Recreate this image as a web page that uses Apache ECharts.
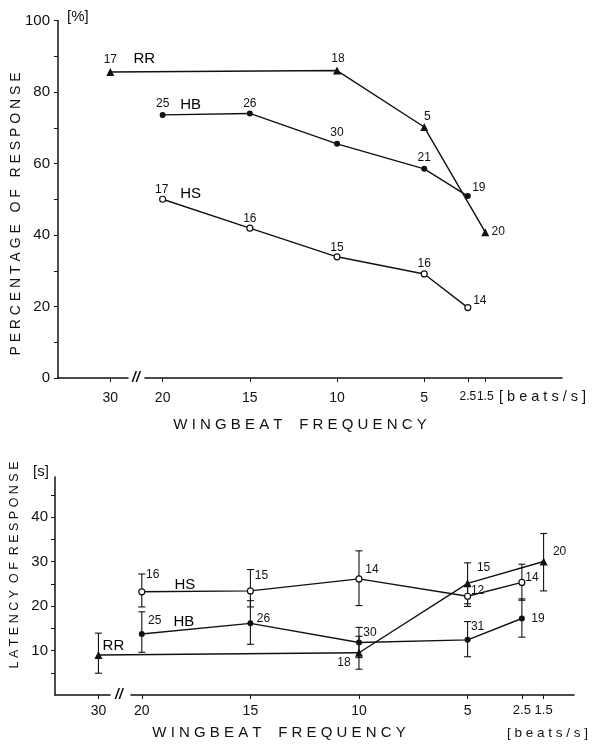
<!DOCTYPE html>
<html>
<head>
<meta charset="utf-8">
<script src="https://cdn.jsdelivr.net/npm/echarts@6/dist/echarts.min.js"></script>
<style>
html,body{margin:0;padding:0;background:#fff;}
#c{width:592px;height:745px;}
</style>
</head>
<body>
<div id="c"></div>
<script>
// ---- tick labels ----
const freqTicks = [30, 20, 15, 10, 5, 2.5, 1.5];
const pctTicks = [0, 20, 40, 60, 80, 100];
const latTicks = [10, 20, 30, 40];

// ---- percentage of response (top) ----
const rrFreq = [30, 10, 5, 1.5];
const rrPct = [85.6, 86.0, 70.2, 40.8];
const rrPctN = [17, 18, 5, 20];
const hbFreq = [20, 15, 10, 5, 2.5];
const hbPct = [73.6, 74.0, 65.5, 58.5, 50.9];
const hbPctN = [25, 26, 30, 21, 19];
const hsFreq = [20, 15, 10, 5, 2.5];
const hsPct = [50.0, 41.9, 33.9, 29.1, 19.7];
const hsPctN = [17, 16, 15, 16, 14];

// ---- latency of response (bottom) ----
const rrLat = [9.0, 9.5, 25.1, 30.0];
const rrLatLo = [4.9, 5.8, 20.5, 23.4];
const rrLatHi = [13.9, 13.2, 29.7, 36.3];
const rrLatN = [null, 18, 15, 20];
const hbLat = [13.7, 16.1, 11.8, 12.4, 17.2];
const hbLatLo = [9.6, 11.4, 8.4, 8.6, 13.0];
const hbLatHi = [18.7, 21.2, 15.2, 16.5, 21.6];
const hbLatN = [25, 26, 30, 31, 19];
const hsLat = [23.2, 23.4, 26.1, 22.2, 25.3];
const hsLatLo = [19.8, 19.8, 20.1, 19.9, 21.3];
const hsLatHi = [27.2, 28.2, 32.4, 24.5, 29.4];
const hsLatN = [16, 15, 14, 12, 14];

// ---- label placement (style only) ----
const offTop = {
  RR: [[0,-12],[1,-12],[3,-10],[13,0]],
  HB: [[0,-11],[0,-10],[0,-11],[0,-11],[11,-8]],
  HS: [[-1,-10],[0,-10],[0,-9],[0,-10],[12,-7]]
};
const offBot = {
  RR: [[0,0],[-15,10],[16,-16],[16,-10]],
  HB: [[13,-13],[13,-5],[11,-10],[10,-13],[16,0]],
  HS: [[11,-17],[11,-15],[13,-9],[10,-6],[10,-5]]
};

const INK = '#111';
const FONT = 'Liberation Sans';

function lineSeries(name, xs, ys, ns, offs, gi, symbol, hollow) {
  return {
    type: 'line', name: name, xAxisIndex: gi, yAxisIndex: gi,
    data: xs.map((x, i) => ({ value: [x, ys[i]], label: { offset: offs[i] } })),
    symbol: symbol, symbolSize: symbol === 'triangle' ? 8 : 6,
    showAllSymbol: true,
    lineStyle: { color: INK, width: 1.4 },
    itemStyle: hollow ? { color: '#fff', borderColor: INK, borderWidth: 1.2 } : { color: INK },
    label: {
      show: true, position: 'inside', fontSize: 12, fontFamily: FONT, color: INK,
      textBorderWidth: 0,
      formatter: p => (ns[p.dataIndex] == null ? '' : String(ns[p.dataIndex]))
    },
    emphasis: { disabled: true }, animation: false, z: 3
  };
}

function nameSeries(name, x, y, off, gi) {
  return {
    type: 'scatter', xAxisIndex: gi, yAxisIndex: gi, symbolSize: 0,
    data: [[x, y]], silent: true,
    itemStyle: { color: INK, opacity: 1 },
    label: { show: true, position: 'inside', offset: off, formatter: name,
      fontSize: 15, fontFamily: FONT, color: '#000', opacity: 1, textBorderWidth: 0 },
    emphasis: { disabled: true }, animation: false, z: 4
  };
}

function errSeries(xs, lo, hi, gi) {
  return {
    type: 'custom', xAxisIndex: gi, yAxisIndex: gi, silent: true,
    data: xs.map((x, i) => [x, lo[i], hi[i]]),
    encode: { x: 0, y: [1, 2] },
    renderItem: function (params, api) {
      const x = api.value(0);
      const a = api.coord([x, api.value(2)]);
      const b = api.coord([x, api.value(1)]);
      const w = 3.5;
      const st = { stroke: INK, lineWidth: 1.1 };
      return { type: 'group', children: [
        { type: 'line', shape: { x1: a[0], y1: a[1], x2: b[0], y2: b[1] }, style: st },
        { type: 'line', shape: { x1: a[0]-w, y1: a[1], x2: a[0]+w, y2: a[1] }, style: st },
        { type: 'line', shape: { x1: b[0]-w, y1: b[1], x2: b[0]+w, y2: b[1] }, style: st }
      ]};
    },
    animation: false, z: 2
  };
}

function xAxisCfg(gi, min, max, brk, gap, margin, narrowSize) {
  return {
    type: 'value', gridIndex: gi, inverse: true, min: min, max: max,
    breaks: [{ start: brk[0], end: brk[1], gap: gap }],
    breakArea: { show: false },
    breakLabelLayout: { moveOverlap: false },
    axisLine: { show: true, onZero: false, lineStyle: { color: INK, width: 1.5 } },
    axisTick: { show: true, customValues: freqTicks, length: 4, lineStyle: { color: INK, width: 1 } },
    axisLabel: {
      show: true, customValues: freqTicks, hideOverlap: false, fontSize: 14, fontFamily: FONT, color: INK, margin: margin,
      formatter: v => (v < 3 ? '{s|' + v + '}' : String(v)),
      rich: { s: { fontSize: narrowSize, fontFamily: FONT, color: INK } }
    },
    splitLine: { show: false }
  };
}

function yAxisCfg(gi, max, tickVals, labelVals, margin) {
  return {
    type: 'value', gridIndex: gi, min: 0, max: max, position: 'left',
    axisLine: { show: true, onZero: false, lineStyle: { color: INK, width: 1.5 } },
    axisTick: { show: true, customValues: tickVals, length: 4, lineStyle: { color: INK, width: 1 } },
    axisLabel: { customValues: labelVals, fontSize: 15, fontFamily: FONT, color: INK, margin: margin },
    splitLine: { show: false }
  };
}

const chart = echarts.init(document.getElementById('c'), null, { renderer: 'canvas' });

const option = {
  backgroundColor: '#fff',
  animation: false,
  grid: [
    { left: 58, top: 20.5, width: 504, height: 357.5 },
    { left: 55, top: 477, width: 519, height: 218 }
  ],
  xAxis: [
    xAxisCfg(0, -2.9, 33, [21, 29], '3.46%', 13, 12),
    xAxisCfg(1, 0.1, 32, [20.5, 29.5], '4.17%', 9, 13)
  ],
  yAxis: [
    yAxisCfg(0, 100, [0, 10, 20, 30, 40, 50, 60, 70, 80, 90, 100], pctTicks, 8),
    yAxisCfg(1, 49, [5, 10, 15, 20, 25, 30, 35, 40, 45], latTicks, 7)
  ],
  series: [
    lineSeries('RR', rrFreq, rrPct, rrPctN, offTop.RR, 0, 'triangle', false),
    lineSeries('HB', hbFreq, hbPct, hbPctN, offTop.HB, 0, 'circle', false),
    lineSeries('HS', hsFreq, hsPct, hsPctN, offTop.HS, 0, 'circle', true),
    nameSeries('RR', rrFreq[0], rrPct[0], [34, -13], 0),
    nameSeries('HB', hbFreq[0], hbPct[0], [28, -10], 0),
    nameSeries('HS', hsFreq[0], hsPct[0], [28, -5], 0),

    errSeries(rrFreq, rrLatLo, rrLatHi, 1),
    errSeries(hbFreq, hbLatLo, hbLatHi, 1),
    errSeries(hsFreq, hsLatLo, hsLatHi, 1),
    lineSeries('RR ', rrFreq, rrLat, rrLatN, offBot.RR, 1, 'triangle', false),
    lineSeries('HB ', hbFreq, hbLat, hbLatN, offBot.HB, 1, 'circle', false),
    lineSeries('HS ', hsFreq, hsLat, hsLatN, offBot.HS, 1, 'circle', true),
    nameSeries('RR', rrFreq[0], rrLat[0], [15, -9], 1),
    nameSeries('HB', hbFreq[0], hbLat[0], [42, -12], 1),
    nameSeries('HS', hsFreq[0], hsLat[0], [43, -7], 1)
  ],
  graphic: [
    { type: 'text', x: 16, y: 214, rotation: Math.PI / 2,
      style: { text: 'P E R C E N T A G E   O F   R E S P O N S E', fontSize: 14, fontFamily: FONT, fill: INK, align: 'center', verticalAlign: 'middle' } },
    { type: 'text', x: 67, y: 17,
      style: { text: '[%]', fontSize: 15, fontFamily: FONT, fill: INK, align: 'left', verticalAlign: 'middle' } },
    { type: 'text', x: 300, y: 425,
      style: { text: 'W I N G B E A T    F R E Q U E N C Y', fontSize: 15, fontFamily: FONT, fill: INK, align: 'center', verticalAlign: 'middle' } },
    { type: 'text', x: 499, y: 397,
      style: { text: '[ b e a t s / s ]', fontSize: 14.5, fontFamily: FONT, fill: INK, align: 'left', verticalAlign: 'middle' } },
    { type: 'text', x: 136, y: 378,
      style: { text: '//', fontSize: 14, fontFamily: FONT, fontStyle: 'italic', fontWeight: 'bold', fill: INK, align: 'center', verticalAlign: 'middle' } },

    { type: 'text', x: 15, y: 565, rotation: Math.PI / 2,
      style: { text: 'L A T E N C Y  O F  R E S P O N S E', fontSize: 12.5, fontFamily: FONT, fill: INK, align: 'center', verticalAlign: 'middle' } },
    { type: 'text', x: 41, y: 472,
      style: { text: '[s]', fontSize: 15, fontFamily: FONT, fill: INK, align: 'center', verticalAlign: 'middle' } },
    { type: 'text', x: 279, y: 733,
      style: { text: 'W I N G B E A T    F R E Q U E N C Y', fontSize: 15, fontFamily: FONT, fill: INK, align: 'center', verticalAlign: 'middle' } },
    { type: 'text', x: 507, y: 733,
      style: { text: '[ b e a t s / s ]', fontSize: 13.5, fontFamily: FONT, fill: INK, align: 'left', verticalAlign: 'middle' } },
    { type: 'text', x: 119, y: 695,
      style: { text: '//', fontSize: 14, fontFamily: FONT, fontStyle: 'italic', fontWeight: 'bold', fill: INK, align: 'center', verticalAlign: 'middle' } }
  ]
};
chart.setOption(option);
</script>
</body>
</html>
